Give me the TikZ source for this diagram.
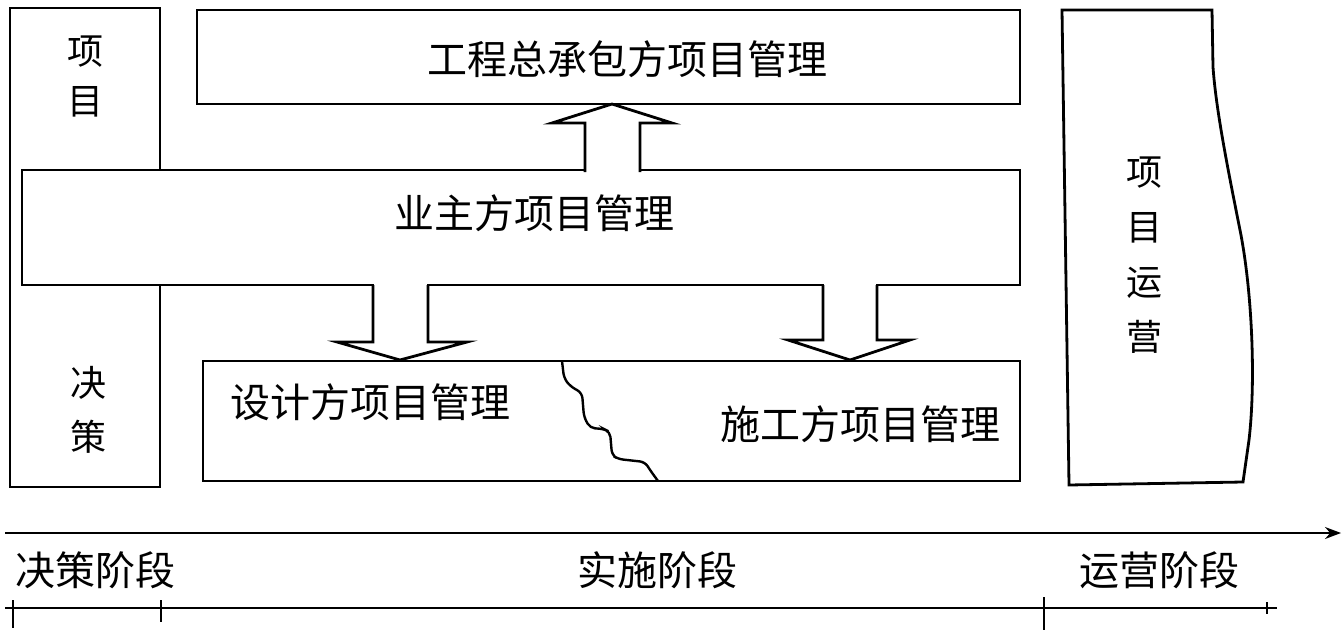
\documentclass[tikz,border=0pt]{standalone}
\usepackage{fontspec}
\setmainfont{Noto Sans CJK SC}
\usetikzlibrary{arrows.meta,fit}
\begin{document}
\begin{tikzpicture}[x=0.5pt,y=-0.5pt,line join=miter,
  box/.style={draw,line width=1.4pt,fill=white,inner sep=0pt},
  lbl/.style={font=\fontsize{20pt}{24pt}\selectfont,inner sep=0pt},
  vlbl/.style={font=\fontsize{18pt}{25pt}\selectfont,inner sep=0pt,align=center},
  blockarrow/.style={draw,line width=1.4pt,fill=white,line join=miter},
  crack/.style={line width=1.2pt,rounded corners=2.5pt},
  axis/.style={line width=0.8pt},
  tick/.style={line width=0.6pt}]
\useasboundingbox (0,0) rectangle (1344,631);

% boxes
\node[box,fit={(10,8) (160,487)}] (dec) {};
\node[box,fit={(22,170) (1020,285)}] (owner) {};
\node[box,fit={(197,10) (1020,104)}] (epc) {};
\node[box,fit={(203,361) (1020,481)}] (low) {};

% right operation box
\draw[line width=1.4pt,fill=white] (1062,10) -- (1212,10) -- (1213,67)
  .. controls (1216,110) and (1228,170) .. (1240,230)
  .. controls (1252,290) and (1256,380) .. (1249,440)
  -- (1243,482) -- (1069,485) -- cycle;
\coordinate (opc) at (1144,255);

% up arrow
\fill[white] (586,164) rectangle (639,180);
\draw[blockarrow] (585,172) -- (585,123) -- (552,123) -- (612,104) -- (672,123) -- (640,123) -- (640,172);

% down arrows
\fill[white] (374,277) rectangle (427,293);
\draw[blockarrow] (373,285) -- (373,342) -- (337,342) -- (400,360) -- (467,342) -- (428,342) -- (428,285);
\fill[white] (824,277) rectangle (876,293);
\draw[blockarrow] (823,285) -- (823,340) -- (788,340) -- (850,360) -- (910,340) -- (877,340) -- (877,285);

% crack line between design and construction
\draw[crack] (562,361) -- (564,378) -- (570,386) -- (582,393) -- (584,417) -- (590,428) -- (604,429) -- (610,432) -- (612,455) -- (618,459) -- (645,462) -- (650,470) -- (658,481);

% texts
\node[lbl] (tepc) at (627,59) {工程总承包方项目管理};
\node[lbl] (towner) at (534,213) {业主方项目管理};
\node[lbl] (tdes) at (370,402) {设计方项目管理};
\node[lbl] (tcon) at (860,424) {施工方项目管理};
\node[vlbl] (tdec1) at (86,77) {项\\目};
\node[vlbl,font=\fontsize{18pt}{27pt}\selectfont] (tdec2) at (88,410) {决\\策};
\node[vlbl,font=\fontsize{18pt}{27.5pt}\selectfont] (top) at (opc) {项\\目\\运\\营};

% timeline
\coordinate (a0) at (5,533);
\coordinate (a1) at (1341,533);
\draw[axis,-{Stealth[length=8pt,width=6pt]}] (a0) -- (a1);
\coordinate (b0) at (5,608);
\coordinate (b1) at (1277,608);
\draw[axis] (b0) -- (b1);
\draw[tick] (13,600) -- (13,628);
\draw[tick] (161,600) -- (161,622);
\draw[tick] (1044,597) -- (1044,630);
\draw[tick] (1267,602) -- (1267,614);

\node[lbl] (p1) at (95,570) {决策阶段};
\node[lbl] (p2) at (657,570) {实施阶段};
\node[lbl] (p3) at (1159,570) {运营阶段};
\end{tikzpicture}
\end{document}
